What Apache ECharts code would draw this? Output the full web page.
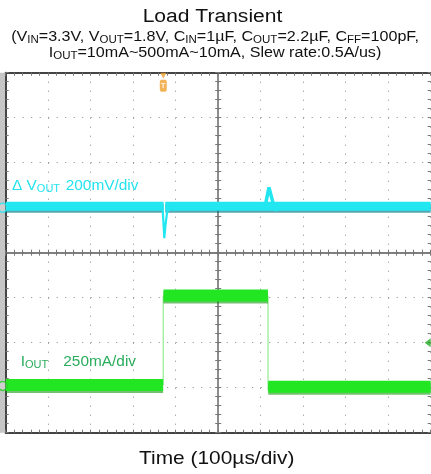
<!DOCTYPE html>
<html><head><meta charset="utf-8">
<script src="https://cdn.jsdelivr.net/npm/echarts@6/dist/echarts.min.js"></script>
<style>html,body{margin:0;padding:0;background:#fff}#c{width:431px;height:474px}</style>
</head><body><div id="c"></div>
<script>
// Time in microseconds (100 µs/div), ΔVout in mV (200 mV/div), Iout in mA (250 mA/div)
const voutBand = [[-500, 6], [-128.5, 6], [-128.5, '-'], [-124.5, 6], [500, 6]];
const voutDip = [[-131, 6], [-129.5, 2], [-126.8, -135], [-124, -77], [-120.5, -24], [-113.4, 6]];
const voutOvershoot = [[110, 6], [112, 21], [119.5, 90], [133.6, -12], [141, 6]];
const ioutBand = [[-500, 15], [-129.6, 15], [-129.6, '-'], [-128.8, 512], [117, 512], [117, '-'], [117.8, 5], [500, 5]];
const ioutEdges = [[-129.2, 15], [-129.2, 512], [-129.2, '-'], [117.3, 512], [117.3, -15]];
const triggerTime = -129.2;
const triggerLevel = 250;
const voutGround = 0;
const ioutGround = 10;

const voutOffsetDiv = 1, voutPerDiv = 200;
const ioutOffsetDiv = -3, ioutPerDiv = 250;
const vDiv = d => d.map(p => [p[0], p[1] === '-' ? '-' : voutOffsetDiv + p[1] / voutPerDiv]);
const iDiv = d => d.map(p => [p[0], p[1] === '-' ? '-' : ioutOffsetDiv + p[1] / ioutPerDiv]);

const FONT = '"Liberation Sans", Arial, Helvetica, sans-serif';
const tickStyle = { color: '#777', width: 1 };

function xAx(extra) {
  return Object.assign({ type: 'value', min: -500, max: 500, interval: 100,
    axisLabel: { show: false }, splitLine: { show: false } }, extra);
}
function yAx(extra) {
  return Object.assign({ type: 'value', min: -4, max: 4, interval: 1,
    axisLabel: { show: false }, splitLine: { show: false } }, extra);
}
const ticks = (inside) => ({
  axisTick: { show: true, inside: inside, length: 3, lineStyle: tickStyle },
  minorTick: { show: true, splitNumber: 5, length: 3, lineStyle: tickStyle }
});

const option = {
  animation: false,
  backgroundColor: '#fff',
  grid: { left: 5.7, right: 0.3, top: 72.7, bottom: 41.3, containLabel: false, outerBoundsMode: 'none' },
  xAxis: [
    xAx(Object.assign({ position: 'bottom',
      axisLine: { show: true, onZero: true, onZeroAxisIndex: 0, lineStyle: { color: '#555', width: 1.5 } },
      splitLine: { show: true, lineStyle: { color: '#888', width: 1, type: [1, 8] } } }, ticks(false))),
    xAx(Object.assign({ position: 'bottom',
      axisLine: { show: false, onZero: true, onZeroAxisIndex: 0 } }, ticks(true))),
    xAx(Object.assign({ position: 'top',
      axisLine: { show: true, onZero: false, lineStyle: { color: '#444', width: 2 } } }, ticks(true))),
    xAx(Object.assign({ position: 'bottom',
      axisLine: { show: true, onZero: false, lineStyle: { color: '#444', width: 2 } } }, ticks(true)))
  ],
  yAxis: [
    yAx(Object.assign({ position: 'left',
      axisLine: { show: true, onZero: true, onZeroAxisIndex: 0, lineStyle: { color: '#666', width: 1.5 } },
      splitLine: { show: true, lineStyle: { color: '#888', width: 1, type: [1, 7.5] } } }, ticks(false))),
    yAx(Object.assign({ position: 'left',
      axisLine: { show: false, onZero: true, onZeroAxisIndex: 0 } }, ticks(true))),
    yAx(Object.assign({ position: 'left',
      axisLine: { show: true, onZero: false, lineStyle: { color: '#444', width: 2 } } }, ticks(true))),
    yAx(Object.assign({ position: 'right',
      axisLine: { show: false, onZero: false } }, ticks(true)))
  ],
  graphic: [
    { type: 'rect', z: -10, shape: { x: 0, y: 72.7, width: 5, height: 360 }, style: { fill: '#c6c6c6' } },
    { type: 'text', x: 212.5, y: 17, scaleX: 1.17,
      style: { text: 'Load Transient', font: '18px ' + FONT, fill: '#111', align: 'center', verticalAlign: 'middle', textAlign: 'center', textVerticalAlign: 'middle' } },
    { type: 'text', x: 215, y: 37, scaleX: 1.15,
      style: { text: '{n|(V}{s|IN}{n|=3.3V, V}{s|OUT}{n|=1.8V, C}{s|IN}{n|=1µF, C}{s|OUT}{n|=2.2µF, C}{s|FF}{n|=100pF,}',
        align: 'center', verticalAlign: 'middle', textAlign: 'center', textVerticalAlign: 'middle', fill: '#111',
        rich: { n: { fontSize: 14, fontFamily: FONT, lineHeight: 16, fill: '#111', color: '#111' },
                s: { fontSize: 10, fontFamily: FONT, lineHeight: 12, verticalAlign: 'bottom', fill: '#111', color: '#111' } } } },
    { type: 'text', x: 215, y: 53, scaleX: 1.15,
      style: { text: '{n|I}{s|OUT}{n|=10mA~500mA~10mA, Slew rate:0.5A/us)}',
        align: 'center', verticalAlign: 'middle', textAlign: 'center', textVerticalAlign: 'middle', fill: '#111',
        rich: { n: { fontSize: 14, fontFamily: FONT, lineHeight: 16, fill: '#111', color: '#111' },
                s: { fontSize: 10, fontFamily: FONT, lineHeight: 12, verticalAlign: 'bottom', fill: '#111', color: '#111' } } } },
    { type: 'text', x: 216.7, y: 459, scaleX: 1.1,
      style: { text: 'Time (100µs/div)', font: '19px ' + FONT, fill: '#111', align: 'center', verticalAlign: 'middle', textAlign: 'center', textVerticalAlign: 'middle' } },
    { type: 'text', x: 12, y: 186, scaleX: 1.1, z: 10,
      style: { text: '{n|Δ V}{s|OUT}', align: 'left', verticalAlign: 'middle', textAlign: 'left', textVerticalAlign: 'middle', fill: '#22e3ee',
        rich: { n: { fontSize: 14, fontFamily: FONT, lineHeight: 16, fill: '#22e3ee', color: '#22e3ee' },
                s: { fontSize: 10, fontFamily: FONT, lineHeight: 12, verticalAlign: 'bottom', fill: '#22e3ee', color: '#22e3ee' } } } },
    { type: 'text', x: 65.7, y: 186, scaleX: 1.1, z: 10,
      style: { text: '200mV/div', font: '14px ' + FONT, fill: '#22e3ee', align: 'left', verticalAlign: 'middle', textAlign: 'left', textVerticalAlign: 'middle' } },
    { type: 'text', x: 20.7, y: 362.5, scaleX: 1.1, z: 10,
      style: { text: '{n|I}{s|OUT}', align: 'left', verticalAlign: 'middle', textAlign: 'left', textVerticalAlign: 'middle', fill: '#2aad5c',
        rich: { n: { fontSize: 14, fontFamily: FONT, lineHeight: 16, fill: '#2aad5c', color: '#2aad5c' },
                s: { fontSize: 10, fontFamily: FONT, lineHeight: 12, verticalAlign: 'bottom', fill: '#2aad5c', color: '#2aad5c' } } } },
    { type: 'text', x: 63.3, y: 362.5, scaleX: 1.1, z: 10,
      style: { text: '250mA/div', font: '14px ' + FONT, fill: '#2aad5c', align: 'left', verticalAlign: 'middle', textAlign: 'left', textVerticalAlign: 'middle' } }
  ],
  series: [
    { type: 'line', name: 'VoutBand', data: vDiv(voutBand), symbol: 'none', silent: true, connectNulls: false,
      lineStyle: { color: '#22e6f0', width: 9, cap: 'butt', shadowColor: 'rgba(0,120,130,0.65)', shadowOffsetY: 2, shadowBlur: 0 } },
    { type: 'line', name: 'VoutDip', data: vDiv(voutDip), symbol: 'none', silent: true,
      lineStyle: { color: '#22e6f0', width: 2.2 } },
    { type: 'line', name: 'VoutOvershoot', data: vDiv(voutOvershoot), symbol: 'none', silent: true,
      lineStyle: { color: '#22e6f0', width: 3.5 } },
    { type: 'line', name: 'IoutEdges', data: iDiv(ioutEdges), symbol: 'none', silent: true, connectNulls: false,
      lineStyle: { color: '#a6f0a6', width: 1.5 } },
    { type: 'line', name: 'IoutBand', data: iDiv(ioutBand), symbol: 'none', silent: true, connectNulls: false,
      lineStyle: { color: '#22e622', width: 12, cap: 'butt', shadowColor: 'rgba(0,140,0,0.55)', shadowOffsetY: 2, shadowBlur: 0 } },
    { type: 'scatter', name: 'markers', clip: false, silent: true, z: 5,
      data: [
        { value: vDiv([[-500, voutGround]])[0], symbol: 'circle', symbolSize: 9, symbolOffset: [-3, 0],
          itemStyle: { color: 'rgba(255,255,255,0.2)', borderColor: '#22e6f0', borderWidth: 1.5 } },
        { value: iDiv([[-500, ioutGround]])[0], symbol: 'circle', symbolSize: 9, symbolOffset: [-3, 0],
          itemStyle: { color: 'rgba(255,255,255,0.2)', borderColor: '#22cc22', borderWidth: 1.5 } },
        { value: iDiv([[500, triggerLevel]])[0], symbol: 'path://M0,5 L8,0 L8,10 Z', symbolSize: [6, 9], symbolOffset: [-3, 0],
          itemStyle: { color: '#22aa22' } },
        { value: [triggerTime, 4], symbol: 'path://M0,0 L10,0 L5,8 Z', symbolSize: [6, 6], symbolOffset: [0, 3],
          itemStyle: { color: '#f0a030' } },
        { value: [triggerTime, 4], symbol: 'roundRect', symbolSize: [7, 12], symbolOffset: [0, 13],
          itemStyle: { color: '#f0a030' },
          label: { show: true, position: 'inside', formatter: 'T', color: '#fff', fontSize: 8, fontWeight: 'bold', fontFamily: FONT } }
      ] }
  ]
};
const chart = echarts.init(document.getElementById('c'), null, { renderer: 'canvas' });
chart.setOption(option);
</script>
</body></html>
